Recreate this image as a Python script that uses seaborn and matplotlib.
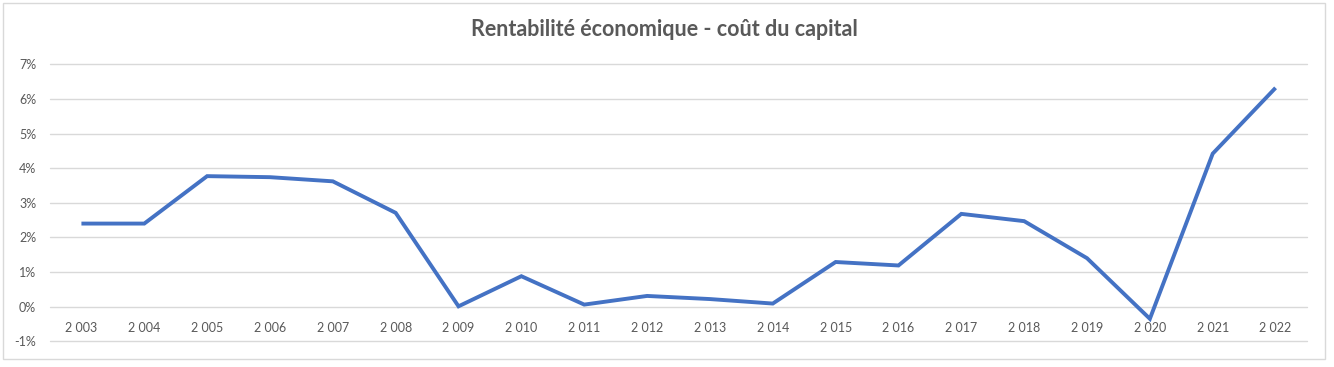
import matplotlib
matplotlib.use("Agg")
import matplotlib.pyplot as plt
import matplotlib.patches as mpatches
import seaborn as sns
import pandas as pd
from matplotlib.ticker import FuncFormatter, FixedLocator

years = [2003, 2004, 2005, 2006, 2007, 2008, 2009, 2010, 2011, 2012,
         2013, 2014, 2015, 2016, 2017, 2018, 2019, 2020, 2021, 2022]
values = [2.40, 2.40, 3.77, 3.74, 3.62, 2.71, 0.01, 0.88, 0.06, 0.31,
          0.22, 0.09, 1.29, 1.19, 2.68, 2.47, 1.40, -0.35, 4.42, 6.32]
title = "Rentabilité économique - coût du capital"
y_ticks = [-1, 0, 1, 2, 3, 4, 5, 6, 7]

df = pd.DataFrame({"annee": years, "valeur": values})

sns.set_theme(style="white")
plt.rcParams["font.family"] = ["Lato", "DejaVu Sans"]

fig = plt.figure(figsize=(13.34, 3.67), dpi=100)
fig.patch.set_facecolor("white")
ax = fig.add_axes([50 / 1334, (367 - 341.3) / 367, (1307 - 50) / 1334, (341.3 - 64.3) / 367])
ax.set_facecolor("white")

sns.lineplot(data=df, x="annee", y="valeur", ax=ax, color="#4472C4", linewidth=2.8,
             solid_joinstyle="miter", solid_capstyle="butt")

ax.set_xlim(years[0] - 0.5, years[-1] + 0.5)
ax.set_ylim(y_ticks[0], y_ticks[-1])
ax.yaxis.set_major_locator(FixedLocator(y_ticks))
ax.yaxis.set_major_formatter(FuncFormatter(lambda v, p: f"{int(round(v))}%"))
ax.xaxis.set_major_locator(FixedLocator(years))
ax.xaxis.set_major_formatter(FuncFormatter(lambda v, p: f"{int(v) // 1000} {int(v) % 1000:03d}"))

ax.grid(axis="y", color="#D9D9D9", linewidth=1.0)
for gl in ax.get_ygridlines():
    gl.set_clip_on(False)
ax.set_axisbelow(True)
for s in ax.spines.values():
    s.set_visible(False)
ax.spines["bottom"].set_position(("data", 0))
ax.tick_params(axis="x", length=0, pad=11, labelsize=9, labelcolor="#595959")
ax.tick_params(axis="y", length=0, pad=10, labelsize=9, labelcolor="#595959")
ax.set_xlabel("")
ax.set_ylabel("")

fig.text(664 / 1334, 1 - 30 / 367, title, ha="center", va="center",
         fontsize=15.5, fontweight="bold", color="#595959")

fig.patches.append(mpatches.Rectangle((3 / 1334, 1 - 359 / 367), 1322 / 1334, 356 / 367,
                                      transform=fig.transFigure, fill=False,
                                      edgecolor="#D9D9D9", linewidth=1.0))

fig.savefig("out.png", dpi=100, facecolor="white")
